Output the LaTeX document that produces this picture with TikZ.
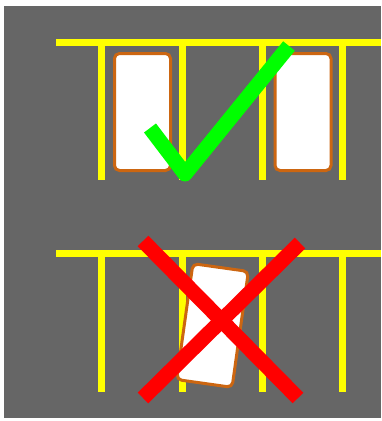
\documentclass[tikz,border=0pt]{standalone}
\usetikzlibrary{positioning}
\definecolor{asphalt}{RGB}{102,102,102}
\definecolor{paint}{RGB}{255,255,0}
\definecolor{rim}{RGB}{204,102,17}
\definecolor{okgreen}{RGB}{0,255,0}
\definecolor{badred}{RGB}{255,0,0}

\begin{document}
\begin{tikzpicture}[x=1pt, y=-1pt,
    bay/.style = {draw=paint, line width=7pt},
    car/.style = {draw=rim, fill=white, line width=3pt, rounded corners=5pt,
                  minimum width=56pt, minimum height=117pt, inner sep=0pt},
    verdict/.style = {line width=15pt}]
    \useasboundingbox (0,0) rectangle (381,421);
    \fill[asphalt] (4,6) rectangle (381,418);

    % top row: parked right
    \draw[bay] (56,42) -- (381,42);
    \foreach \x in {101.5,182,262,342}
        \draw[bay] (\x,42) -- (\x,180);
    \node[car] (carA) at (142.5,112) {};
    \node[car] (carB) at (303,112) {};
    \draw[verdict, draw=okgreen, line join=round] (150,128) -- (185,174) -- (289,46);

    % bottom row: parked wrong
    \draw[bay] (56,253) -- (381,253);
    \foreach \x in {101.5,182,262,342}
        \draw[bay] (\x,253) -- (\x,392);
    \node[car, rotate=-8] (carC) at (212.5,325.5) {};
    \draw[verdict, draw=badred] (143,241) -- (298,398);
    \draw[verdict, draw=badred] (300,243) -- (143,398);
\end{tikzpicture}
\end{document}
